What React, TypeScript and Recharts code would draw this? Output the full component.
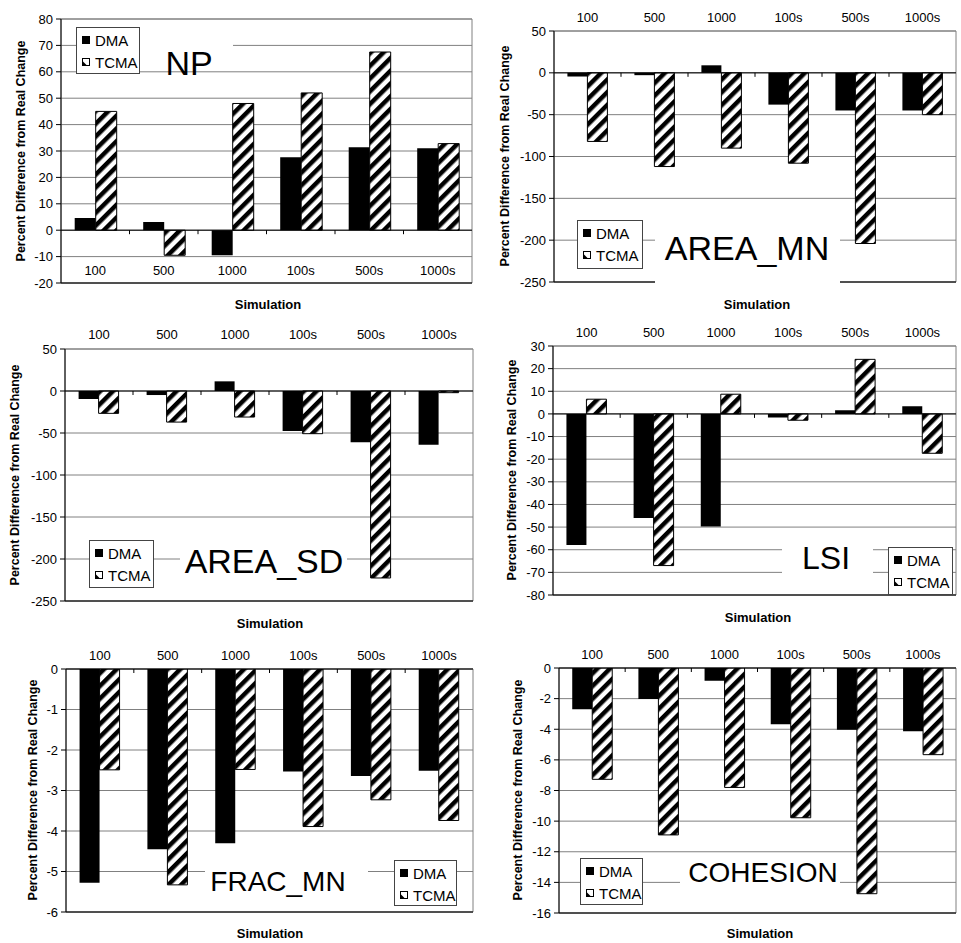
import React from "react";
import {
  BarChart,
  Bar,
  XAxis,
  YAxis,
  CartesianGrid,
  ReferenceLine,
  ReferenceArea,
} from "recharts";

// simulation runs along the x axis
const categories = ["100", "500", "1000", "100s", "500s", "1000s"];

const npDMA = [4.6, 3.1, -9.5, 27.6, 31.4, 31];
const npTCMA = [45, -9.5, 48, 52, 67.5, 32.8];
const areaMnDMA = [-4.4, -2.8, 9, -38, -45, -45];
const areaMnTCMA = [-82, -112, -90, -108, -204, -50];
const areaSdDMA = [-9.5, -4.8, 11.5, -47.6, -61, -64];
const areaSdTCMA = [-26.6, -37, -31, -50.8, -222.6, -2];
const lsiDMA = [-57.9, -46, -49.7, -1.6, 1.6, 3.4];
const lsiTCMA = [6.5, -67, 8.7, -2.8, 24.1, -17.4];
const fracDMA = [-5.28, -4.45, -4.3, -2.53, -2.64, -2.51];
const fracTCMA = [-2.49, -5.33, -2.48, -3.89, -3.23, -3.74];
const cohDMA = [-2.69, -2.03, -0.83, -3.67, -4.04, -4.13];
const cohTCMA = [-7.27, -10.9, -7.8, -9.78, -14.74, -5.66];

// y axis ticks
const npTicks = [-20, -10, 0, 10, 20, 30, 40, 50, 60, 70, 80];
const areaTicks = [-250, -200, -150, -100, -50, 0, 50];
const lsiTicks = [-80, -70, -60, -50, -40, -30, -20, -10, 0, 10, 20, 30];
const fracTicks = [-6, -5, -4, -3, -2, -1, 0];
const cohTicks = [-16, -14, -12, -10, -8, -6, -4, -2, 0];

const FONT = '"Liberation Sans", Arial, Helvetica, sans-serif';
const GRID = "#808080";

const rows = (dma: number[], tcma: number[]) =>
  categories.map((cat, i) => ({ cat, DMA: dma[i], TCMA: tcma[i] }));

const panels = [
  {
    id: "np", title: "NP", titleSize: 34, data: rows(npDMA, npTCMA), ticks: npTicks,
    box: { left: 0, top: 0, width: 480, height: 310 },
    margin: { top: 19, right: 8, bottom: 26, left: 21 },
    catPos: "bottom", catDy: -7,
    titleBox: { x: 139, y: 36, w: 94, h: 34, cx: 189, base: 75 },
    legend: { x: 76, y: 27, w: 63, h: 46 },
    yLab: { x: 21, y: 151 }, sim: { x: 268, y: 309 },
  },
  {
    id: "amn", title: "AREA_MN", titleSize: 34, data: rows(areaMnDMA, areaMnTCMA), ticks: areaTicks,
    box: { left: 480, top: 0, width: 481, height: 310 },
    margin: { top: 30, right: 5, bottom: 28, left: 34 },
    catPos: "top", catDy: -10.5,
    titleBox: { x: 655, y: 226, w: 185, h: 58, cx: 747, base: 260 },
    legend: { x: 577, y: 220, w: 65, h: 48 },
    yLab: { x: 505, y: 156 }, sim: { x: 757, y: 309 },
  },
  {
    id: "asd", title: "AREA_SD", titleSize: 34, data: rows(areaSdDMA, areaSdTCMA), ticks: areaTicks,
    box: { left: 0, top: 310, width: 480, height: 320 },
    margin: { top: 38, right: 7, bottom: 29, left: 25 },
    catPos: "top", catDy: -11,
    titleBox: { x: 180, y: 542, w: 167, h: 42, cx: 264, base: 573 },
    legend: { x: 89, y: 540, w: 64, h: 47 },
    yLab: { x: 15, y: 475 }, sim: { x: 270, y: 628 },
  },
  {
    id: "lsi", title: "LSI", titleSize: 32, data: rows(lsiDMA, lsiTCMA), ticks: lsiTicks,
    box: { left: 480, top: 310, width: 481, height: 320 },
    margin: { top: 35, right: 5, bottom: 35, left: 33 },
    catPos: "top", catDy: -10.5,
    titleBox: { x: 782, y: 535, w: 91, h: 46, cx: 826, base: 569 },
    legend: { x: 888, y: 547, w: 64, h: 47 },
    yLab: { x: 512, y: 470 }, sim: { x: 758, y: 622 },
  },
  {
    id: "frac", title: "FRAC_MN", titleSize: 28, data: rows(fracDMA, fracTCMA), ticks: fracTicks,
    box: { left: 0, top: 630, width: 480, height: 313 },
    margin: { top: 38, right: 7, bottom: 31, left: 26 },
    catPos: "top", catDy: -10.5,
    titleBox: { x: 205, y: 858, w: 163, h: 42, cx: 278, base: 891 },
    legend: { x: 394, y: 860, w: 62, h: 45 },
    yLab: { x: 33, y: 790 }, sim: { x: 270, y: 938 },
  },
  {
    id: "coh", title: "COHESION", titleSize: 28, data: rows(cohDMA, cohTCMA), ticks: cohTicks,
    box: { left: 480, top: 630, width: 481, height: 313 },
    margin: { top: 37, right: 5, bottom: 30, left: 39 },
    catPos: "top", catDy: -10.5,
    titleBox: { x: 680, y: 856, w: 160, h: 36, cx: 763, base: 882 },
    legend: { x: 580, y: 858, w: 62, h: 46 },
    yLab: { x: 518, y: 790 }, sim: { x: 760, y: 938 },
  },
];

// zero line with little tick marks between the categories
function ZeroAxis(props: any) {
  const { x1, x2, y1 } = props;
  const n = categories.length;
  return (
    <g>
      <line x1={x1} x2={x2} y1={y1} y2={y1} stroke="#000" strokeWidth={1} />
      {Array.from({ length: n - 1 }, (_, i) => {
        const x = x1 + ((x2 - x1) * (i + 1)) / n;
        return <line key={i} x1={x} x2={x} y1={y1} y2={y1 + 4} stroke="#000" />;
      })}
    </g>
  );
}

function Panel({ p }: { p: any }) {
  const min = p.ticks[0];
  const max = p.ticks[p.ticks.length - 1];
  const catTick = (props: any) => {
    // props.y sits on the plot edge (tick size and margin are zero)
    const edge = p.catPos === "top" ? props.y + 1 : props.y - 1;
    return (
      <text
        x={props.x}
        y={edge + p.catDy}
        textAnchor="middle"
        fontSize={13}
        fontFamily={FONT}
        fill="#000"
      >
        {props.payload.value}
      </text>
    );
  };
  return (
    <div style={{ position: "absolute", left: p.box.left, top: p.box.top }}>
      <BarChart
        width={p.box.width}
        height={p.box.height}
        data={p.data}
        margin={p.margin}
        barCategoryGap="20%"
        barGap={0}
      >
        <defs>
          <pattern
            id={`hatch-${p.id}`}
            patternUnits="userSpaceOnUse"
            width={9}
            height={9}
            patternTransform="rotate(45)"
          >
            <rect width={9} height={9} fill="#fff" />
            <rect width={4.5} height={9} fill="#000" />
          </pattern>
        </defs>
        <CartesianGrid vertical={false} stroke={GRID} />
        <ReferenceArea y1={min} y2={max} fill="none" stroke={GRID} />
        <XAxis
          dataKey="cat"
          orientation={p.catPos}
          height={1}
          axisLine={false}
          tickLine={false}
          tickSize={0}
          tickMargin={0}
          interval={0}
          tick={catTick}
        />
        <YAxis
          width={40}
          domain={[min, max]}
          ticks={p.ticks}
          interval={0}
          allowDataOverflow
          tickSize={5}
          tickMargin={3}
          axisLine={{ stroke: "#000" }}
          tickLine={{ stroke: "#000" }}
          tick={{ fontSize: 13, fill: "#000", fontFamily: FONT }}
        />
        <Bar dataKey="DMA" fill="#000" isAnimationActive={false} />
        <Bar
          dataKey="TCMA"
          fill={`url(#hatch-${p.id})`}
          stroke="#000"
          strokeWidth={1}
          isAnimationActive={false}
        />
        <ReferenceLine y={min} stroke="#000" />
        <ReferenceLine y={0} stroke="#000" shape={(sp: any) => <ZeroAxis {...sp} />} />
      </BarChart>
    </div>
  );
}

function Overlay() {
  return (
    <svg
      width={961}
      height={943}
      style={{ position: "absolute", left: 0, top: 0, pointerEvents: "none" }}
      fontFamily={FONT}
    >
      {panels.map((p) => {
        const lg = p.legend;
        const tb = p.titleBox;
        return (
          <g key={p.id}>
            <text
              transform={`translate(${p.yLab.x},${p.yLab.y}) rotate(-90)`}
              textAnchor="middle"
              dominantBaseline="central"
              fontSize={12.5}
              fontWeight="bold"
              fill="#000"
            >
              Percent Difference from Real Change
            </text>
            <text x={p.sim.x} y={p.sim.y} textAnchor="middle" fontSize={13} fontWeight="bold" fill="#000">
              Simulation
            </text>
            <rect x={tb.x} y={tb.y} width={tb.w} height={tb.h} fill="#fff" />
            <text x={tb.cx} y={tb.base} textAnchor="middle" fontSize={p.titleSize} fill="#000">
              {p.title}
            </text>
            <rect x={lg.x + 0.5} y={lg.y + 0.5} width={lg.w} height={lg.h} fill="#fff" stroke="#444" />
            <rect x={lg.x + 6} y={lg.y + 9} width={8} height={8} fill="#000" />
            <text x={lg.x + 19} y={lg.y + 18.5} fontSize={15} fill="#000">DMA</text>
            <rect x={lg.x + 6.5} y={lg.y + 31.5} width={7} height={7} fill="#fff" stroke="#000" />
            <polygon
              points={`${lg.x + 6.5},${lg.y + 38.5} ${lg.x + 6.5},${lg.y + 34} ${lg.x + 11},${lg.y + 38.5}`}
              fill="#000"
            />
            <text x={lg.x + 19} y={lg.y + 40.5} fontSize={15} fill="#000">TCMA</text>
          </g>
        );
      })}
    </svg>
  );
}

export default function App() {
  return (
    <div
      style={{
        position: "fixed",
        left: 0,
        top: 0,
        width: 961,
        height: 943,
        background: "#fff",
        fontFamily: FONT,
      }}
    >
      {panels.map((p) => (
        <Panel key={p.id} p={p} />
      ))}
      <Overlay />
    </div>
  );
}
